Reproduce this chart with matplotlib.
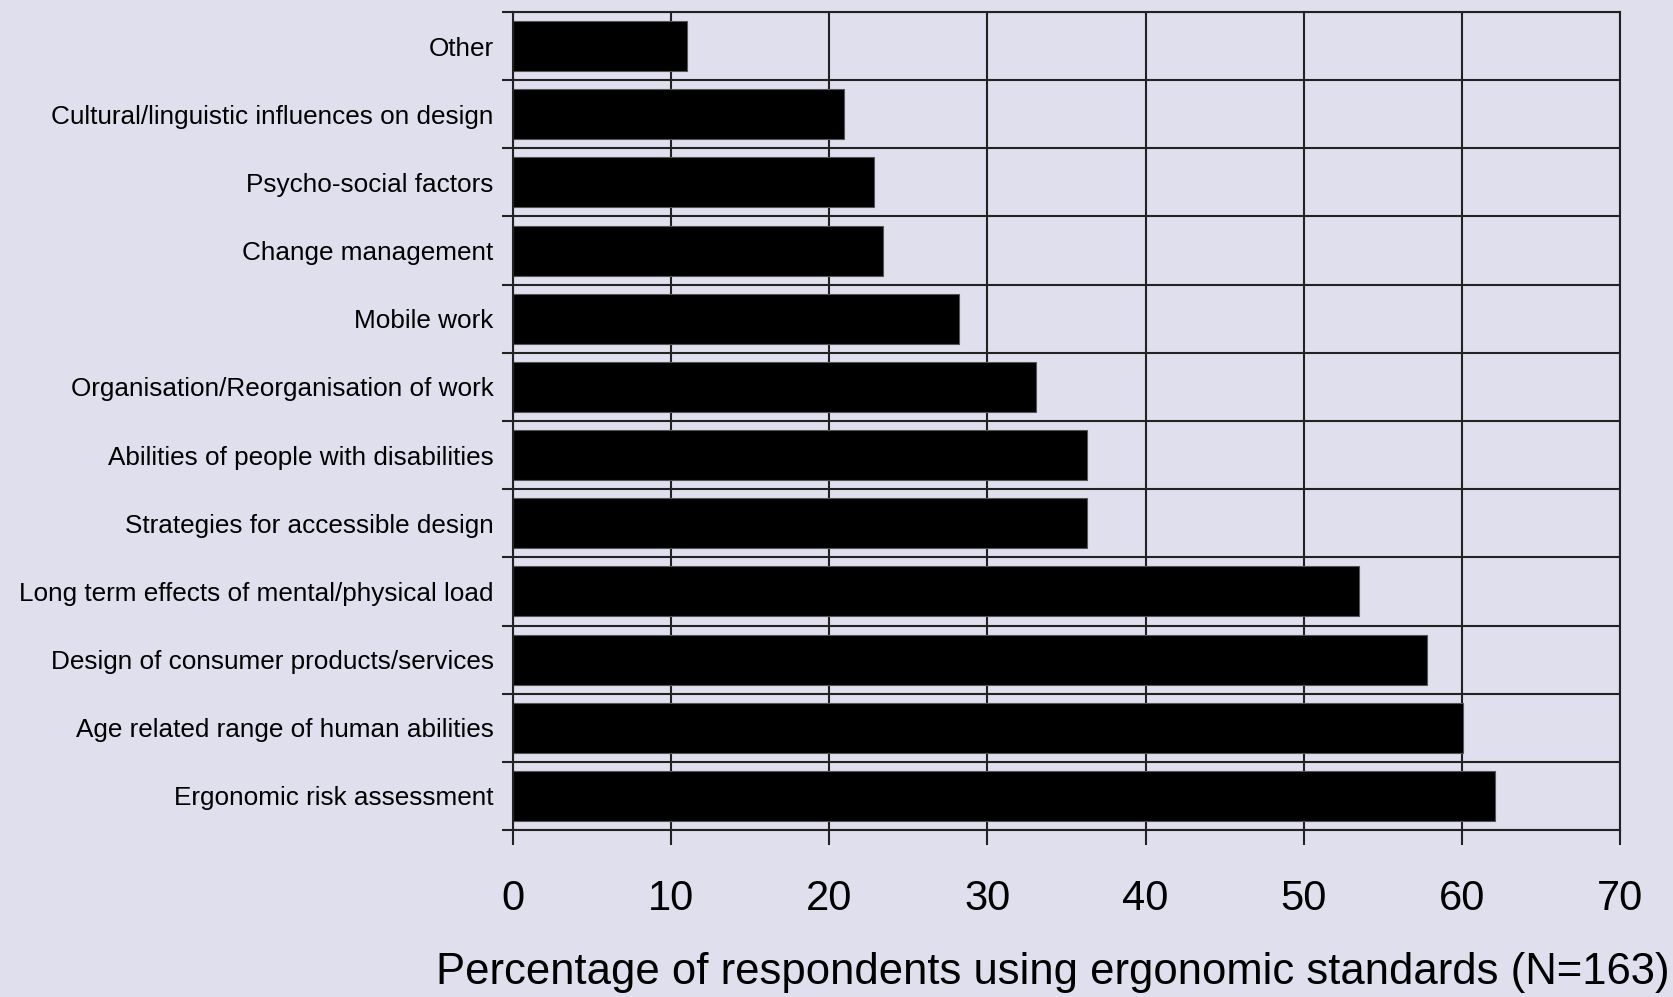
import numpy as np
import matplotlib
matplotlib.use("Agg")
import matplotlib.pyplot as plt

# top to bottom, as in the chart
topics = [
    "Other",
    "Cultural/linguistic influences on design",
    "Psycho-social factors",
    "Change management",
    "Mobile work",
    "Organisation/Reorganisation of work",
    "Abilities of people with disabilities",
    "Strategies for accessible design",
    "Long term effects of mental/physical load",
    "Design of consumer products/services",
    "Age related range of human abilities",
    "Ergonomic risk assessment",
]
percent = [11.0, 20.9, 22.8, 23.4, 28.2, 33.1, 36.3, 36.3, 53.5, 57.8, 60.1, 62.1]
x_ticks = [0, 10, 20, 30, 40, 50, 60, 70]
x_title = "Percentage of respondents using ergonomic standards (N=163)"

bg = "#dfdfee"
plt.rcParams["font.family"] = ["Liberation Sans", "DejaVu Sans"]

fig = plt.figure(figsize=(16.73, 9.97), dpi=100, facecolor=bg)
ax = fig.add_axes([513 / 1673, 1 - 830 / 997, (1620 - 513) / 1673, (830 - 12) / 997])
ax.set_facecolor(bg)

y = np.arange(len(topics))
ax.barh(y, percent, height=0.735, color="black", edgecolor="#555555", linewidth=0.8, zorder=3)

ax.set_xlim(0, 70)
ax.set_ylim(len(topics) - 0.5, -0.5)
ax.set_xticks(x_ticks)
ax.set_xticklabels([str(t) for t in x_ticks], fontsize=30)
ax.tick_params(axis="x", direction="out", length=11, width=1.5, color="#222222", pad=24)
ax.grid(axis="x", color="#222222", linewidth=1.5, zorder=1)

ax.set_yticks(y)
ax.set_yticklabels(topics, fontsize=18.8)
ax.tick_params(axis="y", which="major", length=0, pad=14)
ax.set_yticks(np.arange(-0.5, len(topics), 1), minor=True)
ax.tick_params(axis="y", which="minor", direction="out", length=8, width=1.5, color="#222222")
ax.grid(axis="y", which="minor", color="#222222", linewidth=1.5, zorder=1)

for s in ax.spines.values():
    s.set_color("#222222")
    s.set_linewidth(1.5)
    s.set_zorder(4)

ax.set_xlabel(x_title, fontsize=31.4)
ax.xaxis.set_label_coords(0.488, -0.149)

fig.savefig("out.png", dpi=100, facecolor=bg)
